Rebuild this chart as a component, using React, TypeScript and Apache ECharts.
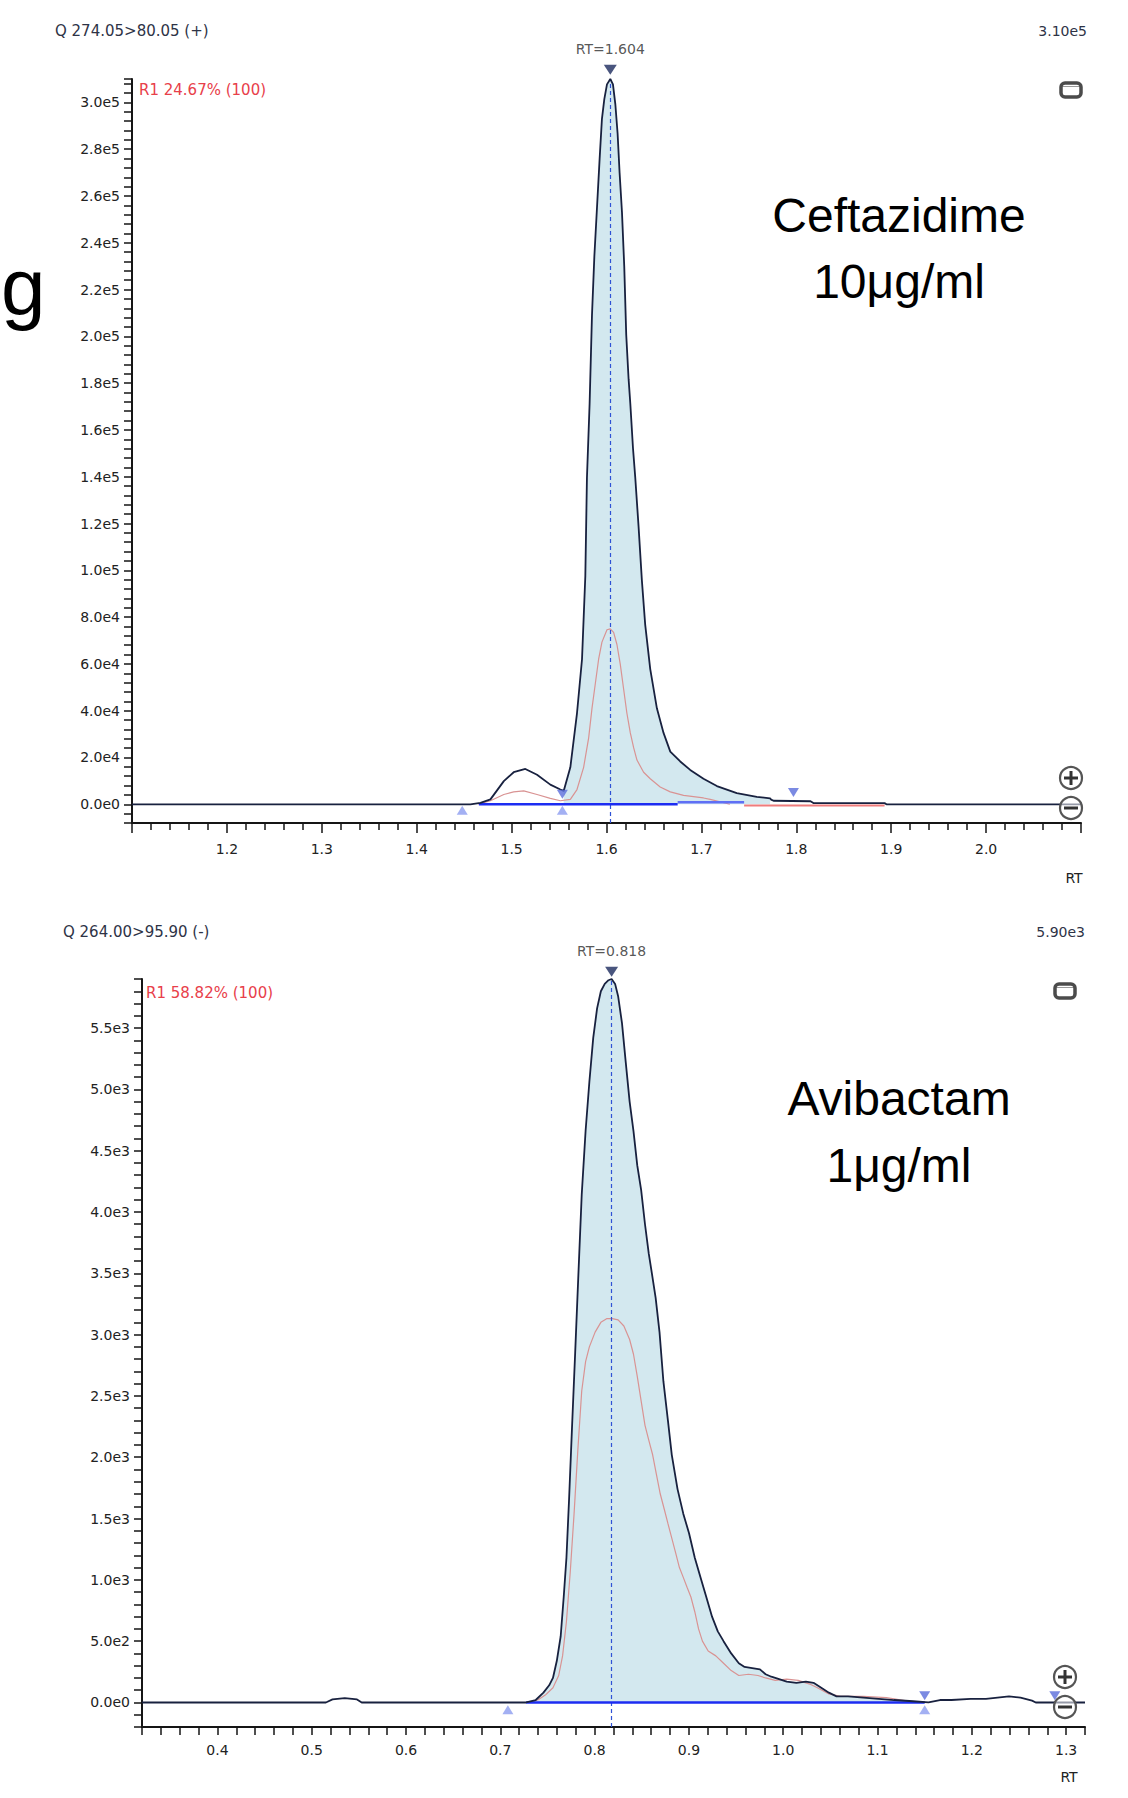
import React, { useEffect, useRef } from "react";
import * as echarts from "echarts";

// ---------------- Top panel: Ceftazidime, Q 274.05>80.05 (+) ----------------
const cefTitle = "Q 274.05>80.05 (+)";
const cefMaxLabel = "3.10e5";
const cefRatioLabel = "R1 24.67% (100)";
const cefName = "Ceftazidime";
const cefConc = "10μg/ml";

// quantifier trace (black)
const cefRT = [1.1, 1.4566, 1.4672, 1.4777, 1.4918, 1.5022, 1.5145, 1.5268, 1.5408, 1.5514, 1.5549, 1.5619, 1.5689, 1.5742, 1.5777, 1.5794, 1.5822, 1.5847, 1.5872, 1.59, 1.5928, 1.5952, 1.5977, 1.6005, 1.604, 1.6068, 1.6093, 1.6117, 1.6138, 1.6163, 1.6187, 1.6208, 1.6233, 1.6251, 1.6279, 1.6303, 1.6338, 1.6373, 1.6408, 1.6461, 1.6531, 1.6601, 1.6672, 1.6777, 1.6882, 1.7022, 1.7163, 1.7373, 1.7584, 1.7724, 1.7735, 1.776, 1.815, 1.818, 1.893, 1.895, 2.1];
const cefQuant = [0, 0, 600, 2100, 9900, 13700, 15100, 12600, 8400, 6300, 5700, 15800, 38900, 62000, 97700, 139700, 171200, 209000, 234200, 255200, 276200, 293000, 301400, 307700, 310000, 307700, 299300, 286700, 269900, 253100, 230000, 200600, 181700, 171200, 152300, 139700, 118700, 95600, 76700, 57800, 41000, 30500, 22500, 18300, 14700, 10900, 7800, 4800, 3200, 2500, 2000, 1500, 1300, 500, 500, 0, 0];
// qualifier trace (pink)
const cefConfRT = [1.465, 1.4777, 1.4918, 1.5022, 1.5128, 1.5268, 1.5408, 1.5514, 1.5619, 1.5689, 1.5759, 1.5812, 1.5847, 1.5882, 1.5917, 1.5952, 1.6005, 1.604, 1.6075, 1.611, 1.6145, 1.618, 1.6215, 1.6251, 1.6286, 1.6321, 1.6391, 1.6461, 1.6566, 1.6672, 1.6812, 1.7022, 1.7093, 1.73];
const cefConf = [0, 1500, 4200, 5300, 5700, 4200, 2500, 1500, 2100, 6300, 15800, 28400, 41000, 51500, 62000, 69300, 74600, 75000, 73500, 68300, 59900, 49400, 38900, 30500, 24200, 18900, 13700, 10900, 7400, 5300, 3800, 2700, 2100, 0];
const cefWindow = [1.5549, 1.7724];
const cefBaseDark = [1.4655, 1.675];
const cefBaseLight = [1.675, 1.745];
const cefBaseLightY = 900;
const cefBaseRed = [1.745, 1.893];
const cefBaseRedY = -500;
const cefDownRT = [1.5535, 1.797];
const cefDownY = [4300, 5000];
const cefUpRT = [1.448, 1.5535];
const cefUpY = [-2600, -2600];
const cefApexMarkY = 314000;
const cefXMin = 1.1, cefXMax = 2.1, cefXStep = 0.1;
const cefYMin = -8000, cefYMax = 310000, cefYStep = 4000, cefYLabelStep = 20000;

// ---------------- Bottom panel: Avibactam, Q 264.00>95.90 (-) ----------------
const aviTitle = "Q 264.00>95.90 (-)";
const aviMaxLabel = "5.90e3";
const aviRatioLabel = "R1 58.82% (100)";
const aviName = "Avibactam";
const aviConc = "1μg/ml";

const aviRT = [0.32, 0.515, 0.522, 0.535, 0.548, 0.553, 0.7274, 0.7375, 0.7457, 0.7518, 0.7558, 0.7599, 0.764, 0.7672, 0.7701, 0.7729, 0.7761, 0.7794, 0.7826, 0.7863, 0.7904, 0.7944, 0.7985, 0.8026, 0.8066, 0.8107, 0.8147, 0.818, 0.8217, 0.8249, 0.829, 0.833, 0.8371, 0.8412, 0.8452, 0.8493, 0.8534, 0.8574, 0.8607, 0.8647, 0.8688, 0.8729, 0.8777, 0.8818, 0.8879, 0.894, 0.9001, 0.9062, 0.9123, 0.9184, 0.9245, 0.9306, 0.9367, 0.9448, 0.9529, 0.959, 0.9671, 0.9753, 0.9813, 0.9874, 0.9956, 1.0037, 1.0139, 1.024, 1.0321, 1.0403, 1.0484, 1.0565, 1.0687, 1.085, 1.1012, 1.1175, 1.1378, 1.154, 1.1662, 1.1784, 1.1987, 1.215, 1.2272, 1.2394, 1.2516, 1.2638, 1.2678, 1.32];
const aviQuant = [0, 0, 25, 35, 25, 0, 0, 20, 80, 140, 200, 340, 540, 860, 1180, 1660, 2260, 2860, 3460, 4140, 4660, 5060, 5420, 5660, 5800, 5860, 5890, 5900, 5860, 5760, 5540, 5220, 4900, 4660, 4380, 4180, 3900, 3660, 3500, 3300, 3020, 2620, 2300, 2020, 1740, 1540, 1380, 1180, 1020, 860, 700, 580, 500, 400, 320, 290, 280, 270, 230, 210, 190, 170, 160, 170, 160, 120, 80, 50, 50, 40, 30, 20, 10, 0, 20, 20, 30, 30, 40, 50, 40, 15, 0, 0];
const aviConfRT = [0.7274, 0.7396, 0.7477, 0.7558, 0.7619, 0.766, 0.7701, 0.7741, 0.7782, 0.7822, 0.7863, 0.7904, 0.7944, 0.8005, 0.8066, 0.8127, 0.8188, 0.8249, 0.831, 0.8371, 0.8412, 0.8452, 0.8493, 0.8534, 0.8574, 0.8615, 0.8655, 0.8696, 0.8737, 0.8777, 0.8818, 0.8859, 0.8899, 0.894, 0.898, 0.9021, 0.9062, 0.9102, 0.9143, 0.9204, 0.9285, 0.9367, 0.9448, 0.9529, 0.9631, 0.9732, 0.9813, 0.9915, 1.0037, 1.0159, 1.0281, 1.0362, 1.0484, 1.0606, 1.085, 1.1093, 1.1256, 1.1419];
const aviConf = [0, 20, 60, 120, 220, 380, 660, 1060, 1540, 2060, 2540, 2780, 2900, 3020, 3100, 3130, 3130, 3120, 3070, 2960, 2840, 2660, 2460, 2260, 2140, 2020, 1860, 1700, 1580, 1460, 1340, 1220, 1100, 1020, 940, 860, 740, 600, 500, 420, 380, 320, 260, 220, 230, 220, 200, 180, 190, 180, 150, 120, 70, 50, 50, 40, 20, 0];
const aviWindow = [0.7274, 1.154];
const aviBaseDark = [0.7274, 1.15];
const aviDownRT = [1.15, 1.288];
const aviDownY = [55, 55];
const aviUpRT = [0.708, 1.15];
const aviUpY = [-60, -60];
const aviApexMarkY = 5960;
const aviXMin = 0.32, aviXMax = 1.32, aviXStep = 0.02, aviXLabelStep = 0.1;
const aviYMin = -200, aviYMax = 5900, aviYStep = 100, aviYLabelStep = 500;

const SMALL_FONT = "DejaVu Sans";
const BIG_FONT = "Liberation Sans, Arial, sans-serif";

const isMult = (v: number, step: number) => Math.abs(v / step - Math.round(v / step)) < 1e-6;
const expFmt = (v: number) => v.toExponential(1).replace("e+", "e");

type Panel = {
  rt: number[]; quant: number[]; confRT: number[]; conf: number[];
  win: number[]; baseDark: number[]; baseLight?: number[]; baseLightY?: number;
  baseRed?: number[]; baseRedY?: number;
  downRT: number[]; downY: number[]; upRT: number[]; upY: number[];
  apexMarkY: number; yMin: number;
};

function buildSeries(i: number, p: Panel) {
  const quant = p.rt.map((x, k) => [x, p.quant[k]]);
  const conf = p.confRT.map((x, k) => [x, p.conf[k]]);
  const fill = quant.filter((d) => d[0] >= p.win[0] - 1e-9 && d[0] <= p.win[1] + 1e-9);
  let ai = 0;
  p.quant.forEach((v, k) => { if (v > p.quant[ai]) ai = k; });
  const apexRT = p.rt[ai];
  const apexI = p.quant[ai];
  const common: any = { xAxisIndex: i, yAxisIndex: i, symbol: "none", showSymbol: false, silent: true, animation: false };
  const s: any[] = [
    { ...common, type: "line", data: fill, lineStyle: { width: 0 }, areaStyle: { color: "#d3e8ef", opacity: 1 }, z: 1 },
    { ...common, type: "line", data: conf, lineStyle: { color: "#d99393", width: 1.2 }, z: 3 },
  ];
  if (p.baseRed) {
    s.push({ ...common, type: "line", data: p.baseRed.map((x) => [x, p.baseRedY]), lineStyle: { color: "#f07c7c", width: 2 }, z: 4 });
  }
  s.push({ ...common, type: "line", data: p.baseDark.map((x) => [x, 0]), lineStyle: { color: "#1c2cf2", width: 2.5 }, z: 5 });
  if (p.baseLight) {
    s.push({ ...common, type: "line", data: p.baseLight.map((x) => [x, p.baseLightY]), lineStyle: { color: "#5f6ff5", width: 2.5 }, z: 5 });
  }
  s.push({
    ...common, type: "line", data: quant, lineStyle: { color: "#18213f", width: 1.8 }, z: 6,
    markLine: {
      silent: true, symbol: ["none", "none"], label: { show: false }, animation: false,
      lineStyle: { color: "#2f52d6", width: 1.2, type: [4, 3] },
      data: [[{ coord: [apexRT, p.yMin] }, { coord: [apexRT, apexI] }]],
    },
  });
  s.push({
    type: "scatter", xAxisIndex: i, yAxisIndex: i, clip: false, silent: true, animation: false,
    symbol: "triangle", symbolRotate: 180, symbolSize: [11, 9], itemStyle: { color: "#5a6ddb" },
    data: p.downRT.map((x, k) => [x, p.downY[k]]), z: 7,
  });
  s.push({
    type: "scatter", xAxisIndex: i, yAxisIndex: i, clip: false, silent: true, animation: false,
    symbol: "triangle", symbolSize: [11, 9], itemStyle: { color: "#8c9cf0" },
    data: p.upRT.map((x, k) => [x, p.upY[k]]), z: 7,
  });
  s.push({
    type: "scatter", xAxisIndex: i, yAxisIndex: i, clip: false, silent: true, animation: false,
    symbol: "triangle", symbolRotate: 180, symbolSize: [13, 10], itemStyle: { color: "#1b2a5e" },
    data: [[apexRT, p.apexMarkY]], z: 8,
    label: {
      show: true, position: "top", distance: 9, formatter: "RT=" + apexRT.toFixed(3),
      color: "#2b2b2b", fontFamily: SMALL_FONT, fontSize: 14,
    },
  });
  return s;
}

const axisLineStyle = { color: "#151515", width: 2 };
const tickLineStyle = { color: "#151515", width: 1.5 };
const labelStyle = { color: "#222", fontFamily: SMALL_FONT, fontSize: 14 };

function txt(x: number, y: number, text: string, size: number, fill: string, align = "left", family = SMALL_FONT) {
  return {
    type: "text", x, y, silent: true, z: 100,
    style: { text, fontSize: size, fontFamily: family, fill, align, textAlign: align, verticalAlign: "middle", textVerticalAlign: "middle" },
  };
}
function winIcon(cx: number, cy: number) {
  return [
    { type: "rect", silent: true, z: 100, shape: { x: cx - 10, y: cy - 7, width: 20, height: 14, r: 4 }, style: { fill: "#fff", stroke: "#4b4b4b", lineWidth: 3.5 } },
    { type: "line", silent: true, z: 101, shape: { x1: cx - 8, y1: cy - 3.5, x2: cx + 8, y2: cy - 3.5 }, style: { stroke: "#9a9a9a", lineWidth: 1 } },
  ];
}
function zoomIcon(cx: number, cy: number, plus: boolean) {
  const arr: any[] = [
    { type: "circle", silent: true, z: 100, shape: { cx, cy, r: 11 }, style: { fill: "rgba(255,255,255,0.55)", stroke: "#555", lineWidth: 2.2 } },
    { type: "line", silent: true, z: 101, shape: { x1: cx - 7, y1: cy, x2: cx + 7, y2: cy }, style: { stroke: "#333", lineWidth: 3 } },
  ];
  if (plus) arr.push({ type: "line", silent: true, z: 101, shape: { x1: cx, y1: cy - 7, x2: cx, y2: cy + 7 }, style: { stroke: "#333", lineWidth: 3 } });
  return arr;
}

export default function App() {
  const ref = useRef<HTMLDivElement>(null);
  useEffect(() => {
    if (!ref.current) return;
    const chart = echarts.init(ref.current, undefined, { renderer: "svg" });
    const top: Panel = {
      rt: cefRT, quant: cefQuant, confRT: cefConfRT, conf: cefConf, win: cefWindow,
      baseDark: cefBaseDark, baseLight: cefBaseLight, baseLightY: cefBaseLightY, baseRed: cefBaseRed, baseRedY: cefBaseRedY,
      downRT: cefDownRT, downY: cefDownY, upRT: cefUpRT, upY: cefUpY, apexMarkY: cefApexMarkY, yMin: cefYMin,
    };
    const bot: Panel = {
      rt: aviRT, quant: aviQuant, confRT: aviConfRT, conf: aviConf, win: aviWindow, baseDark: aviBaseDark,
      downRT: aviDownRT, downY: aviDownY, upRT: aviUpRT, upY: aviUpY, apexMarkY: aviApexMarkY, yMin: aviYMin,
    };
    const option: any = {
      animation: false,
      backgroundColor: "#ffffff",
      grid: [
        { left: 132, top: 79, width: 949, height: 744 },
        { left: 142, top: 979, width: 943, height: 748 },
      ],
      xAxis: [
        {
          type: "value", gridIndex: 0, min: cefXMin, max: cefXMax, interval: cefXStep,
          axisLine: { onZero: false, lineStyle: axisLineStyle },
          axisTick: { show: true, length: 10, lineStyle: tickLineStyle },
          minorTick: { show: true, splitNumber: 5, length: 7, lineStyle: tickLineStyle },
          splitLine: { show: false }, minorSplitLine: { show: false },
          axisLabel: { ...labelStyle, margin: 19, showMinLabel: false, showMaxLabel: false, formatter: (v: number) => v.toFixed(1) },
        },
        {
          type: "value", gridIndex: 1, min: aviXMin, max: aviXMax, interval: aviXStep,
          axisLine: { onZero: false, lineStyle: axisLineStyle },
          axisTick: { show: true, length: 8, lineStyle: tickLineStyle },
          splitLine: { show: false },
          axisLabel: { ...labelStyle, margin: 16, formatter: (v: number) => (isMult(v, aviXLabelStep) ? v.toFixed(1) : "") },
        },
      ],
      yAxis: [
        {
          type: "value", gridIndex: 0, min: cefYMin, max: cefYMax, interval: cefYStep,
          axisLine: { show: true, onZero: false, lineStyle: axisLineStyle },
          axisTick: { show: true, length: 8, lineStyle: tickLineStyle },
          splitLine: { show: false },
          axisLabel: { ...labelStyle, margin: 12, formatter: (v: number) => (v >= 0 && isMult(v, cefYLabelStep) ? expFmt(v) : "") },
        },
        {
          type: "value", gridIndex: 1, min: aviYMin, max: aviYMax, interval: aviYStep,
          axisLine: { show: true, onZero: false, lineStyle: axisLineStyle },
          axisTick: { show: true, length: 8, lineStyle: tickLineStyle },
          splitLine: { show: false },
          axisLabel: { ...labelStyle, margin: 12, formatter: (v: number) => (v >= 0 && isMult(v, aviYLabelStep) ? expFmt(v) : "") },
        },
      ],
      series: [...buildSeries(0, top), ...buildSeries(1, bot)],
      graphic: [
        txt(55, 31, cefTitle, 15, "#2e3346"),
        txt(1087, 31, cefMaxLabel, 14, "#2e3346", "right"),
        txt(139, 90, cefRatioLabel, 15, "#e8404a"),
        txt(1074, 878, "RT", 14, "#222", "center"),
        txt(899, 215, cefName, 48, "#000", "center", BIG_FONT),
        txt(899, 281, cefConc, 48, "#000", "center", BIG_FONT),
        txt(1, 286, "g", 80, "#000", "left", BIG_FONT),
        txt(63, 932, aviTitle, 15, "#2e3346"),
        txt(1085, 932, aviMaxLabel, 14, "#2e3346", "right"),
        txt(146, 993, aviRatioLabel, 15, "#e8404a"),
        txt(1069, 1777, "RT", 14, "#222", "center"),
        txt(899, 1098, aviName, 48, "#000", "center", BIG_FONT),
        txt(899, 1165, aviConc, 48, "#000", "center", BIG_FONT),
        ...winIcon(1071, 90),
        ...zoomIcon(1071, 778, true),
        ...zoomIcon(1071, 808, false),
        ...winIcon(1065, 991),
        ...zoomIcon(1065, 1677, true),
        ...zoomIcon(1065, 1707, false),
      ],
    };
    chart.setOption(option);
    return () => chart.dispose();
  }, []);
  return <div ref={ref} style={{ position: "absolute", left: 0, top: 0, width: 1128, height: 1798, background: "#fff" }} />;
}
